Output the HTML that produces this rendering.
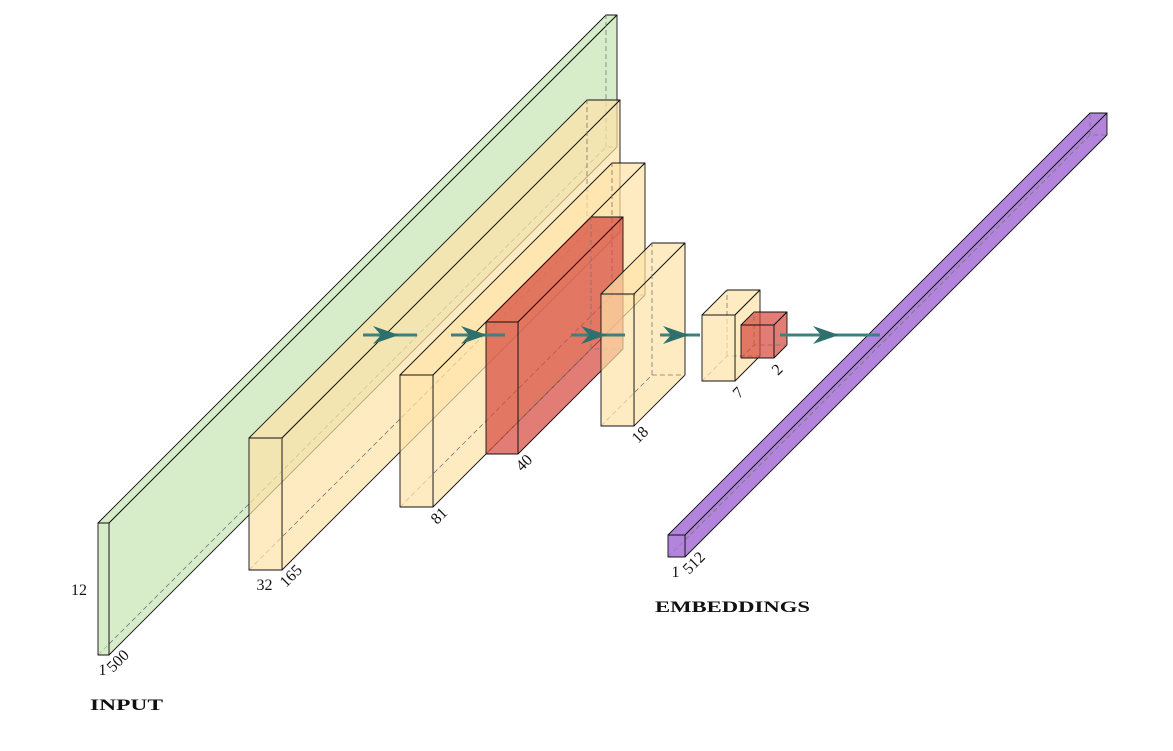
<!DOCTYPE html>
<html><head><meta charset="utf-8"><style>
html,body{margin:0;padding:0;background:#fff;}
svg{display:block;font-family:"Liberation Serif",serif;}
</style></head><body>
<svg id="chart" width="1173" height="751" viewBox="0 0 1173 751" xmlns="http://www.w3.org/2000/svg">
<g id="boxes"></g>
<g id="arrows"></g>
<g id="labels"></g>
</svg>
<script>
// layer names and dimension labels
const layerNames = ["input","conv1","conv2","pool","conv3","conv4","conv5","embeddings"];
const heightLabels = ["12","","","","","","",""];
const widthLabels = ["1","32","","","","","","1"];
const depthLabels = ["500","165","81","40","18","7","2","512"];
const NS = "http://www.w3.org/2000/svg";
// geometry: x, bottom y, width, height, depth offset
const geom = [
  [98,655,11,132,508,"#bfe0a8",0.62],
  [249,570,33,132,338,"#ffe3a6",0.7],
  [400,507,33,132,212,"#ffe3a6",0.7],
  [486,454,32,132,105,"#d6463c",0.7],
  [601,426,33,132,51,"#ffe3a6",0.7],
  [702,381,33,66,25,"#ffe3a6",0.7],
  [741,358,33,33,13,"#d6463c",0.7],
  [668,557,17,22,422,"#a46fd6",0.85]
];
const boxes = document.getElementById("boxes");
function poly(pts, fill, op, name){
  const p = document.createElementNS(NS,"polygon");
  p.setAttribute("points", pts.map(a=>a.join(",")).join(" "));
  p.setAttribute("fill", fill);
  p.setAttribute("fill-opacity", op);
  p.setAttribute("stroke", "#111");
  p.setAttribute("stroke-width", "0.9");
  p.setAttribute("stroke-linejoin", "round");
  
  
  return p;
}
geom.forEach((g,i)=>{
  const [x,y,w,h,d,c,op] = g;
  const grp = document.createElementNS(NS,"g");
  
  
  const dash = document.createElementNS(NS,"path");
  dash.setAttribute("d", `M${x},${y} L${x+d},${y-d} L${x+w+d},${y-d} M${x+d},${y-d} L${x+d},${y-h-d}`);
  dash.setAttribute("stroke","#777");
  dash.setAttribute("stroke-width","0.8");
  dash.setAttribute("stroke-dasharray","5,3");
  dash.setAttribute("fill","none");
  
  
  grp.appendChild(poly([[x,y-h],[x+w,y-h],[x+w+d,y-h-d],[x+d,y-h-d]], c, op, layerNames[i]+'-top-face'));
  grp.appendChild(poly([[x+w,y],[x+w,y-h],[x+w+d,y-h-d],[x+w+d,y-d]], c, op, layerNames[i]+'-side-face'));
  grp.appendChild(dash);
  grp.appendChild(poly([[x,y],[x+w,y],[x+w,y-h],[x,y-h]], c, op, layerNames[i]+'-front-face'));
  boxes.appendChild(grp);
});
// arrows between layers
const arrowSegs = [[363,417],[451,505],[571,625],[660,700],[780,880]];
const arrows = document.getElementById("arrows");
arrowSegs.forEach((s,i)=>{
  const g = document.createElementNS(NS,"g");
  
  
  const l = document.createElementNS(NS,"line");
  l.setAttribute("x1",s[0]); l.setAttribute("x2",s[1]);
  l.setAttribute("y1",335); l.setAttribute("y2",335);
  l.setAttribute("stroke","#3f807c"); l.setAttribute("stroke-width","3");
  g.appendChild(l);
  const m = (s[0]+s[1])/2 + 5;
  const h = document.createElementNS(NS,"path");
  h.setAttribute("d",`M${m-22},${326} L${m+4},335 L${m-22},${344} L${m-14},335 Z`);
  h.setAttribute("fill","#2f6f6c");
  g.appendChild(h);
  arrows.appendChild(g);
});
// labels
const labels = document.getElementById("labels");
function txt(s,x,y,rot,name,opts){
  const t = document.createElementNS(NS,"text");
  t.textContent = s;
  t.setAttribute("x",x); t.setAttribute("y",y);
  t.setAttribute("font-size", (opts&&opts.size)||16);
  if(opts&&opts.bold){t.setAttribute("font-weight","bold");}
  if(opts&&opts.len){t.setAttribute("textLength",opts.len);t.setAttribute("lengthAdjust","spacingAndGlyphs");}
  if(opts&&opts.anchor) t.setAttribute("text-anchor",opts.anchor);
  if(rot) t.setAttribute("transform",`rotate(-45 ${x} ${y})`);
  t.setAttribute("fill","#111");
  
  
  labels.appendChild(t);
}
geom.forEach((g,i)=>{
  const [x,y,w,h] = g;
  if(heightLabels[i]) txt(heightLabels[i], x-27, y-h/2+6, false, layerNames[i]+'-height-label');
  if(widthLabels[i]) txt(widthLabels[i], x+w/2-(widthLabels[i].length*4)-1, y+20, false, layerNames[i]+'-width-label');
  if(depthLabels[i]) txt(depthLabels[i], x+w+4, y+18, true, layerNames[i]+'-depth-label');
});
txt("INPUT",90,710,false,'input-title',{bold:true,size:16,len:73});
txt("EMBEDDINGS",655,612,false,'embeddings-title',{bold:true,size:16,len:155});
</script>
</body></html>
